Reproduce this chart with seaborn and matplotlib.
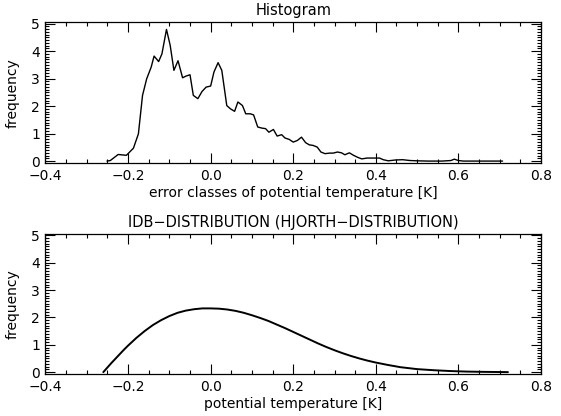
import matplotlib as mpl
mpl.use("Agg")
import matplotlib.pyplot as plt
from matplotlib.ticker import MultipleLocator
import numpy as np
import pandas as pd
import seaborn as sns

# histogram of error classes
hist_x = [-0.251, -0.243, -0.224, -0.204, -0.187, -0.175, -0.165, -0.155, -0.144, -0.137,
          -0.126, -0.118, -0.107, -0.098, -0.089, -0.079, -0.068, -0.060, -0.050, -0.042,
          -0.031, -0.021, -0.011, 0.000, 0.008, 0.018, 0.027, 0.039, 0.048, 0.058,
          0.066, 0.077, 0.085, 0.096, 0.104, 0.114, 0.124, 0.133, 0.141, 0.152,
          0.161, 0.172, 0.180, 0.190, 0.200, 0.210, 0.220, 0.230, 0.239, 0.248,
          0.258, 0.267, 0.277, 0.288, 0.297, 0.307, 0.317, 0.325, 0.336, 0.346,
          0.357, 0.366, 0.379, 0.396, 0.409, 0.418, 0.430, 0.448, 0.465, 0.483,
          0.500, 0.526, 0.560, 0.582, 0.590, 0.600, 0.612, 0.655, 0.707]
hist_y = [0.00, 0.02, 0.24, 0.21, 0.47, 0.99, 2.39, 2.99, 3.42, 3.82,
          3.62, 3.90, 4.79, 4.21, 3.30, 3.65, 3.03, 3.09, 3.14, 2.39,
          2.27, 2.53, 2.69, 2.73, 3.24, 3.58, 3.30, 2.02, 1.90, 1.81,
          2.15, 2.02, 1.72, 1.72, 1.68, 1.24, 1.20, 1.18, 1.05, 1.15,
          0.91, 0.96, 0.84, 0.79, 0.69, 0.75, 0.87, 0.67, 0.59, 0.57,
          0.51, 0.33, 0.27, 0.29, 0.29, 0.33, 0.30, 0.23, 0.30, 0.21,
          0.13, 0.08, 0.11, 0.11, 0.11, 0.05, 0.01, 0.04, 0.05, 0.02,
          0.01, 0.00, 0.00, 0.02, 0.07, 0.02, 0.00, 0.00, 0.00]

# IDB (Hjorth) distribution curve, read point by point
idb_x = [-0.26, -0.25, -0.24, -0.23, -0.22, -0.21, -0.20, -0.18, -0.16, -0.14,
         -0.12, -0.10, -0.08, -0.06, -0.04, -0.02, 0.00, 0.02, 0.04, 0.06,
         0.08, 0.10, 0.12, 0.14, 0.16, 0.18, 0.20, 0.22, 0.24, 0.26,
         0.28, 0.30, 0.32, 0.34, 0.36, 0.38, 0.40, 0.43, 0.46, 0.50,
         0.54, 0.58, 0.62, 0.66, 0.72]
idb_y = [0.00, 0.17, 0.34, 0.50, 0.66, 0.82, 0.97, 1.25, 1.50, 1.72,
         1.90, 2.05, 2.17, 2.25, 2.30, 2.33, 2.33, 2.32, 2.29, 2.24,
         2.17, 2.08, 1.98, 1.87, 1.74, 1.61, 1.47, 1.33, 1.19, 1.05,
         0.92, 0.80, 0.69, 0.59, 0.50, 0.42, 0.35, 0.26, 0.18, 0.11,
         0.07, 0.04, 0.02, 0.01, 0.00]

titles = ["Histogram", "IDB\u2212DISTRIBUTION (HJORTH\u2212DISTRIBUTION)"]
xlabels = ["error classes of potential temperature [K]", "potential temperature [K]"]
x_ticks = [-0.4, -0.2, 0.0, 0.2, 0.4, 0.6, 0.8]
y_ticks = [0, 1, 2, 3, 4, 5]

sns.set_theme(style="ticks")
plt.rcParams['font.family'] = ['DejaVu Sans']
plt.rcParams['text.color'] = 'black'
plt.rcParams['axes.labelcolor'] = 'black'
plt.rcParams['axes.linewidth'] = 0.9

fig = plt.figure(figsize=(5.61, 4.16), dpi=100)
ax_top = fig.add_axes([0.0811, 0.6075, 0.8832, 0.339])
ax_bot = fig.add_axes([0.0811, 0.1002, 0.8832, 0.3373])

frames = [pd.DataFrame({"x": hist_x, "y": hist_y}),
          pd.DataFrame({"x": idb_x, "y": idb_y})]
widths = [1.0, 1.4]

for ax, df, title, xl, lw in zip([ax_top, ax_bot], frames, titles, xlabels, widths):
    sns.lineplot(data=df, x="x", y="y", ax=ax, color="black", linewidth=lw,
                 estimator=None, sort=False)
    ax.set_xlim(-0.4, 0.8)
    ax.set_ylim(-0.08, 5.05)
    ax.set_xticks(x_ticks)
    ax.set_xticklabels(["%.1f" % v if v >= 0 else "\u2212%.1f" % -v for v in x_ticks])
    ax.set_yticks(y_ticks)
    ax.xaxis.set_minor_locator(MultipleLocator(0.05))
    ax.yaxis.set_minor_locator(MultipleLocator(0.1))
    ax.tick_params(which="both", direction="in", top=True, right=True,
                   colors="black", labelcolor="black", labelsize=10, width=0.8)
    ax.tick_params(which="major", length=7, pad=4)
    ax.tick_params(which="minor", length=3)
    ax.set_title(title, fontsize=10.5, pad=5, color="black")
    ax.set_xlabel(xl, fontsize=10, labelpad=2)
    ax.set_ylabel("frequency", fontsize=10, labelpad=8)
    for s in ax.spines.values():
        s.set_color("black")

fig.savefig("out.png", dpi=100, facecolor="white")
